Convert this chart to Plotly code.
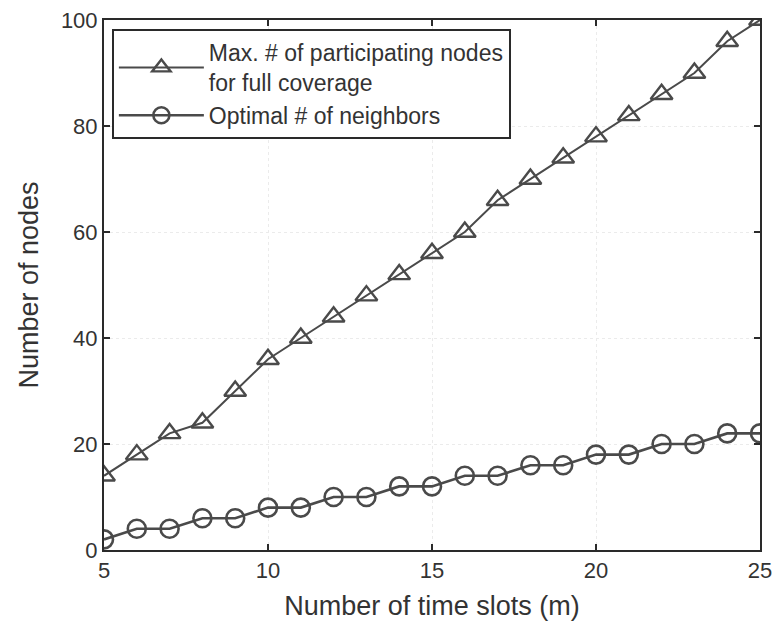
import plotly.graph_objects as go

time_slots = list(range(5, 26))
max_participating = [14, 18, 22, 24, 30, 36, 40, 44, 48, 52, 56, 60, 66, 70, 74, 78, 82, 86, 90, 96, 100]
optimal_neighbors = [2, 4, 4, 6, 6, 8, 8, 10, 10, 12, 12, 14, 14, 16, 16, 18, 18, 20, 20, 22, 22]

x_ticks = [5, 10, 15, 20, 25]
y_ticks = [0, 20, 40, 60, 80, 100]

line_color = "#4a4a4a"
text_color = "#333333"
font_family = "Liberation Sans, Arial, sans-serif"

fig = go.Figure()
fig.add_trace(go.Scatter(
    x=time_slots, y=max_participating, mode="lines+markers",
    name="Max. # of participating nodes<br>for full coverage",
    line=dict(color=line_color, width=2),
    marker=dict(symbol="triangle-up-open", size=19, color=line_color, line=dict(width=2.4, color=line_color)),
))
fig.add_trace(go.Scatter(
    x=time_slots, y=optimal_neighbors, mode="lines+markers",
    name="Optimal # of neighbors",
    line=dict(color=line_color, width=2.6),
    marker=dict(symbol="circle-open", size=18, color=line_color, line=dict(width=2.6, color=line_color)),
))

axis_common = dict(
    showline=True, linecolor="#2a2a2a", linewidth=2, mirror="ticks",
    ticks="inside", ticklen=6, tickwidth=1.5, tickcolor="#2a2a2a",
    showgrid=True, gridcolor="#ebebeb", griddash="dot", gridwidth=1,
    zeroline=False, automargin=False, ticklabeloverflow="allow",
    tickfont=dict(family=font_family, size=22, color=text_color),
)

fig.update_xaxes(
    range=[5, 25], tickvals=x_ticks,
    title=dict(text="Number of time slots (m)", font=dict(family=font_family, size=27, color=text_color), standoff=14),
    **axis_common,
)
fig.update_yaxes(
    range=[0, 100], tickvals=y_ticks,
    title=dict(text="Number of nodes", font=dict(family=font_family, size=27, color=text_color), standoff=14),
    **axis_common,
)

fig.update_layout(
    width=777, height=634,
    margin=dict(l=104, r=17, t=20, b=84),
    paper_bgcolor="white", plot_bgcolor="white",
    showlegend=True,
    legend=dict(
        x=0.012, y=0.983, xanchor="left", yanchor="top",
        bgcolor="white", bordercolor="#2a2a2a", borderwidth=2,
        font=dict(family=font_family, size=23, color=text_color),
        itemwidth=85, tracegroupgap=3,
    ),
)

fig.write_html("out.html")
